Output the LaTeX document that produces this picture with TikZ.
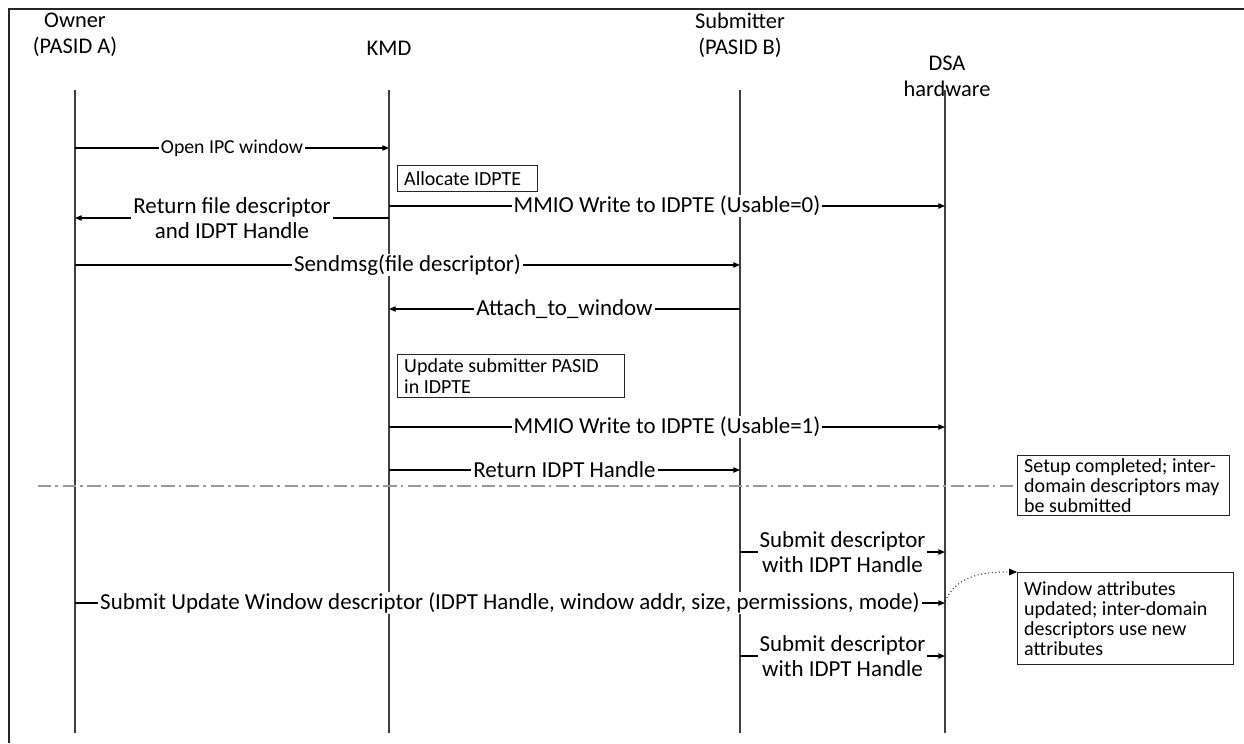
\documentclass[tikz,border=0pt]{standalone}
\usepackage{fontspec}
\setmainfont{Carlito}
\usetikzlibrary{arrows.meta}

\tikzset{
  lifeline/.style={draw=black!75, line width=1.1pt},
  msg/.style={draw=black, line width=0.8pt, -{Triangle[length=5pt,width=4pt]}},
  lbl/.style={fill=white, inner xsep=1.5pt, inner ysep=0.5pt, align=center, font=\fontsize{17.2}{18.4}\selectfont},
  smalllbl/.style={fill=white, inner xsep=1.5pt, inner ysep=0.5pt, font=\fontsize{14.8}{15}\selectfont},
  hdr/.style={align=center, font=\fontsize{16.8}{19.5}\selectfont},
  notebox/.style={draw=black!85, line width=0.8pt, fill=white, anchor=north west, align=flush left, inner xsep=5pt, inner ysep=2pt, font=\fontsize{15}{15.2}\selectfont}
}

\begin{document}
\begin{tikzpicture}[x=0.75pt,y=0.75pt,yscale=-1,xscale=1]
\path[use as bounding box] (0,0) rectangle (1244,743);

%Shape: Frame
\draw[draw=black!85, line width=1.2pt] (9,743) -- (9,9) -- (1244,9);

% Text Node
\node[hdr] (ownhdr) at (75,35) {Owner\\(PASID A)};
\node[hdr] (kmdhdr) at (389,48) {KMD};
\node[hdr] (subhdr) at (740,35) {Submitter\\(PASID B)};
\node[hdr] (dsahdr) at (947,76) {DSA\\hardware};

%Lifelines
\coordinate (own) at (75,90);   \coordinate (ownE) at (75,733);
\coordinate (kmd) at (389,90);  \coordinate (kmdE) at (389,733);
\coordinate (sub) at (740,90);  \coordinate (subE) at (740,733);
\coordinate (dsa) at (945,90);  \coordinate (dsaE) at (945,733);
\draw[lifeline] (own) -- (ownE);
\draw[lifeline] (kmd) -- (kmdE);
\draw[lifeline] (sub) -- (subE);
\draw[lifeline] (dsa) -- (dsaE);

% Arrows
\draw[msg] (own |- 0,148) -- node[smalllbl] {Open IPC window} (kmd |- 0,148);
\draw[msg] (kmd |- 0,206) -- node[lbl] {MMIO Write to IDPTE (Usable=0)} (dsa |- 0,206);
\draw[msg] (kmd |- 0,218) -- node[lbl] {Return file descriptor\\and IDPT Handle} (own |- 0,218);
\draw[msg] (own |- 0,265) -- node[lbl] {Sendmsg(file descriptor)} (sub |- 0,265);
\draw[msg] (sub |- 0,309) -- node[lbl] {Attach\_to\_window} (kmd |- 0,309);
\draw[msg] (kmd |- 0,427) -- node[lbl] {MMIO Write to IDPTE (Usable=1)} (dsa |- 0,427);
\draw[msg] (kmd |- 0,470) -- node[lbl] {Return IDPT Handle} (sub |- 0,470);
\draw[msg] (sub |- 0,552) -- node[lbl] {Submit descriptor\\with IDPT Handle} (dsa |- 0,552);
\draw[msg] (own |- 0,603) -- node[lbl] {Submit Update Window descriptor (IDPT Handle, window addr, size, permissions, mode)} (dsa |- 0,603);
\draw[msg] (sub |- 0,656) -- node[lbl] {Submit descriptor\\with IDPT Handle} (dsa |- 0,656);

% Text Node
\node[notebox, text width=95pt, minimum height=19.5pt] (alloc) at (397,165) {Allocate IDPTE};
\node[notebox, text width=160pt, minimum height=32pt, font=\fontsize{15}{16.2}\selectfont] (upd) at (397,354) {Update submitter PASID\\in IDPTE};

%Setup separator
\coordinate (sepL) at (38,486);
\node[notebox, text width=149pt, minimum height=44pt] (setup) at (1017,455) {Setup completed; inter-\\domain descriptors may\\be submitted};
\draw[draw=black!40, line width=1.1pt, dash pattern={on 10pt off 3pt on 2pt off 3.5pt}] (sepL) -- (sepL -| setup.west);

\node[notebox, text width=152pt, minimum height=69pt] (winattr) at (1017,572) {Window attributes\\updated; inter-domain\\descriptors use new\\attributes};
\draw[line width=0.7pt, dotted, -{Triangle[length=6pt,width=5pt]}] (dsa |- 0,601) to[out=-65,in=180] (winattr.north west);

\end{tikzpicture}
\end{document}
